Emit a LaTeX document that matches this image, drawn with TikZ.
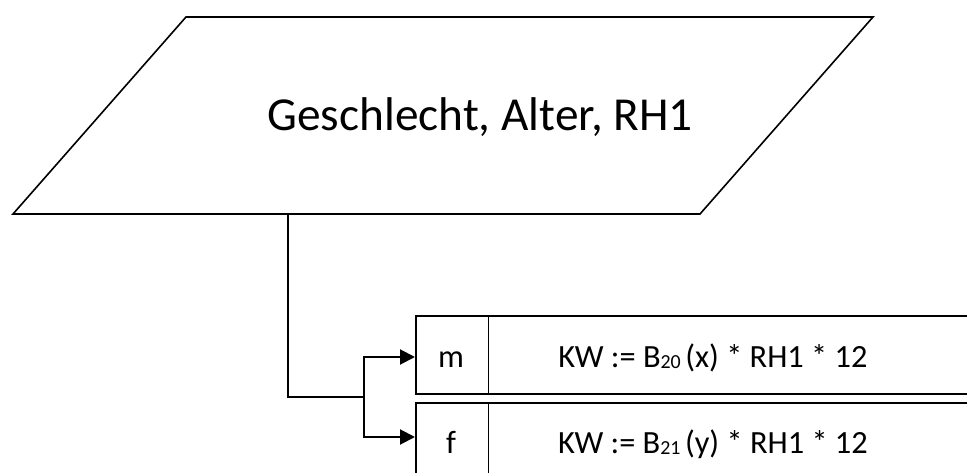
\documentclass[tikz,border=0pt]{standalone}
\usepackage{fontspec}
\setmainfont{Carlito}
\usetikzlibrary{arrows.meta}
\newcommand{\subs}[1]{\raisebox{-1bp}{\fontsize{20}{20}\selectfont #1 }}
\begin{document}
\begin{tikzpicture}[x=1bp,y=-1bp,
  shapeline/.style={line width=1.6bp},
  boxline/.style={draw, line width=2.4bp, anchor=north west, inner sep=0pt, minimum width=600bp},
  divline/.style={line width=1bp},
  conn/.style={line width=2bp},
  arr/.style={line width=2bp, -{Triangle[length=15bp,width=15bp]}},
  bigtxt/.style={font=\fontsize{47.5}{55}\selectfont, anchor=base},
  boxtxt/.style={font=\fontsize{32.5}{40}\selectfont, anchor=base}]
\useasboundingbox (0,0) rectangle (967,473);
% input parallelogram
\draw[shapeline] (186,17) -- (873,17) -- (700,214) -- (13,214) -- cycle;
\node[bigtxt] (in) at (480,131) {Geschlecht, Alter, RH1};
\coordinate (inb) at (288,214);
% case boxes
\node[boxline, minimum height=78bp] (mbox) at (415,315) {};
\node[boxline, minimum height=90bp] (fbox) at (415,402) {};
\draw[divline] (488,315) -- (488,393);
\draw[divline] (488,402) -- (488,480);
\node[boxtxt] (mlab) at (451,368) {m};
\node[boxtxt] (mexp) at (713,368) {KW := B\subs{20}(x) * RH1 * 12};
\node[boxtxt] (flab) at (451,453) {f};
\node[boxtxt] (fexp) at (713,453) {KW := B\subs{21}(y) * RH1 * 12};
% connectors
\coordinate (br) at (364,397);
\coordinate (ma) at (415,357);
\coordinate (fa) at (415,437);
\draw[conn] (inb) |- (br);
\draw[arr] (br) |- (ma);
\draw[arr] (br) |- (fa);
\end{tikzpicture}
\end{document}
